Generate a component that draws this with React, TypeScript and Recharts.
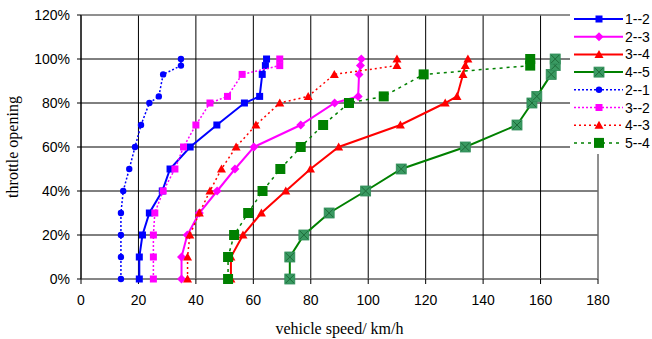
import React from "react";
import {
  ScatterChart,
  Scatter,
  XAxis,
  YAxis,
  CartesianGrid,
  Legend,
  ReferenceLine,
  Label,
} from "recharts";

// throttle opening (%) shared by all shift curves
const throttle = [0, 10, 20, 30, 40, 50, 60, 70, 80, 83, 93, 97, 100];

// vehicle speed (km/h) for each shift line
const speed12 = [20.3, 20.3, 21.4, 23.8, 28.3, 31.0, 38.0, 47.3, 56.9, 62.2, 63.1, 64.2, 64.6];
const speed23 = [35.0, 35.0, 37.0, 41.2, 47.4, 53.6, 60.2, 76.5, 88.3, 96.5, 96.8, 97.3, 97.6];
const speed34 = [52.2, 52.2, 56.4, 62.8, 71.3, 79.9, 89.7, 111.2, 126.8, 130.9, 133.0, 133.8, 134.7];
const speed45 = [72.7, 72.7, 77.6, 86.4, 99.1, 111.5, 133.8, 151.8, 157.0, 158.7, 163.7, 165.1, 165.1];
const speed21 = [13.9, 13.9, 13.9, 13.9, 14.7, 16.8, 18.8, 20.9, 23.8, 27.1, 28.6, 34.8, 34.8];
const speed32 = [25.2, 25.2, 25.2, 25.7, 28.6, 32.7, 35.7, 40.0, 44.9, 51.0, 56.1, 69.2, 69.2];
const speed43 = [37.1, 37.1, 37.9, 41.2, 44.9, 48.9, 54.0, 60.9, 69.2, 79.1, 88.2, 110.0, 110.0];
const speed54 = [51.2, 51.2, 53.3, 58.2, 63.2, 69.4, 76.5, 84.3, 93.3, 105.4, 119.3, 156.4, 156.4];

const xTicks = [0, 20, 40, 60, 80, 100, 120, 140, 160, 180];
const yTicks = [0, 20, 40, 60, 80, 100, 120];

const toPoints = (speeds: number[]) =>
  speeds.map((s, i) => ({ speed: s, throttle: throttle[i] }));

type MarkerKind = "square" | "diamond" | "triangle" | "crossSquare" | "circle" | "bigSquare";

function Marker({ kind, cx, cy, color }: { kind: MarkerKind; cx: number; cy: number; color: string }) {
  switch (kind) {
    case "square":
      return <rect x={cx - 3.5} y={cy - 3.5} width={7} height={7} fill={color} />;
    case "diamond":
      return (
        <polygon
          points={`${cx},${cy - 4.5} ${cx + 4.5},${cy} ${cx},${cy + 4.5} ${cx - 4.5},${cy}`}
          fill={color}
        />
      );
    case "triangle":
      return (
        <polygon
          points={`${cx},${cy - 4.5} ${cx + 4.5},${cy + 3.5} ${cx - 4.5},${cy + 3.5}`}
          fill={color}
        />
      );
    case "circle":
      return <circle cx={cx} cy={cy} r={3.2} fill={color} />;
    case "bigSquare":
      return <rect x={cx - 5} y={cy - 5} width={10} height={10} fill={color} />;
    case "crossSquare":
      return (
        <g>
          <rect x={cx - 5} y={cy - 5} width={10} height={10} fill="#3A9A62" stroke="#2E8B57" strokeWidth={0.8} />
          <path
            d={`M${cx - 4},${cy - 4}L${cx + 4},${cy + 4}M${cx + 4},${cy - 4}L${cx - 4},${cy + 4}`}
            stroke="#1E6B3A"
            strokeWidth={1}
          />
        </g>
      );
  }
  return null;
}

const series = [
  { name: "1--2", data: speed12, color: "#0000FF", dash: undefined, width: 2, kind: "square" as MarkerKind },
  { name: "2--3", data: speed23, color: "#FF00FF", dash: undefined, width: 2, kind: "diamond" as MarkerKind },
  { name: "3--4", data: speed34, color: "#FF0000", dash: undefined, width: 2, kind: "triangle" as MarkerKind },
  { name: "4--5", data: speed45, color: "#008000", dash: undefined, width: 2, kind: "crossSquare" as MarkerKind },
  { name: "2--1", data: speed21, color: "#0000FF", dash: "2 2", width: 1.5, kind: "circle" as MarkerKind },
  { name: "3--2", data: speed32, color: "#FF00FF", dash: "2 2", width: 1.5, kind: "square" as MarkerKind },
  { name: "4--3", data: speed43, color: "#FF0000", dash: "2 3", width: 1.5, kind: "triangle" as MarkerKind },
  { name: "5--4", data: speed54, color: "#008000", dash: "3 4", width: 1.5, kind: "bigSquare" as MarkerKind },
];

function LegendBox() {
  return (
    <svg width={82} height={152}>
      {series.map((s, i) => {
        const y = 17 + i * 17.7;
        return (
          <g key={s.name}>
            <line x1={4} x2={53} y1={y} y2={y} stroke={s.color} strokeWidth={s.width} strokeDasharray={s.dash} />
            <Marker kind={s.kind} cx={29} cy={y} color={s.color} />
            <text
              x={55}
              y={y + 5}
              fontFamily="'Liberation Sans', Arial, sans-serif"
              fontSize={14}
              fill="#000"
            >
              {s.name}
            </text>
          </g>
        );
      })}
    </svg>
  );
}

const tickStyle = { fontFamily: "'Liberation Sans', Arial, sans-serif", fontSize: 14, fill: "#000" };

export default function App() {
  return (
    <div style={{ position: "absolute", left: 0, top: 0, width: 652, height: 339, background: "#fff" }}>
      <ScatterChart width={652} height={339} margin={{ top: 15, right: 54, bottom: 0, left: 0 }}>
        <CartesianGrid stroke="#000" strokeWidth={1} />
        <XAxis
          type="number"
          dataKey="speed"
          domain={[0, 180]}
          ticks={xTicks}
          interval={0}
          height={60}
          tick={tickStyle}
          tickSize={5}
          tickMargin={11}
          axisLine={{ stroke: "#8c8c8c" }}
          tickLine={{ stroke: "#000" }}
        >
          <Label
            value="vehicle speed/ km/h"
            position="insideBottom"
            offset={5}
            style={{ fontFamily: "'Liberation Serif', 'Times New Roman', serif", fontSize: 16, fill: "#000" }}
          />
        </XAxis>
        <YAxis
          type="number"
          dataKey="throttle"
          domain={[0, 120]}
          ticks={yTicks}
          interval={0}
          width={81}
          tick={tickStyle}
          tickSize={4}
          tickMargin={7}
          tickFormatter={(v: number) => `${v}%`}
          axisLine={{ stroke: "#000" }}
          tickLine={{ stroke: "#000" }}
        >
          <Label
            content={() => (
              <text
                x={13}
                y={147}
                transform="rotate(-90 13 147)"
                textAnchor="middle"
                dy={5}
                fontFamily="'Liberation Serif', 'Times New Roman', serif"
                fontSize={16}
                fill="#000"
              >
                throttle opening
              </text>
            )}
          />
        </YAxis>
        <ReferenceLine y={120} stroke="#a0a0a0" />
        <ReferenceLine x={180} stroke="#a0a0a0" />
        {series.map((s) => (
          <Scatter
            key={s.name}
            name={s.name}
            data={toPoints(s.data)}
            fill={s.color}
            line={{ stroke: s.color, strokeWidth: s.width, strokeDasharray: s.dash }}
            lineType="joint"
            isAnimationActive={false}
            shape={(p: any) => <Marker kind={s.kind} cx={p.cx} cy={p.cy} color={s.color} />}
          />
        ))}
        <Legend
          layout="vertical"
          align="center"
          verticalAlign="middle"
          content={() => <LegendBox />}
          wrapperStyle={{ left: 570, top: 2, width: 82, height: 152, background: "#fff" }}
        />
      </ScatterChart>
    </div>
  );
}
